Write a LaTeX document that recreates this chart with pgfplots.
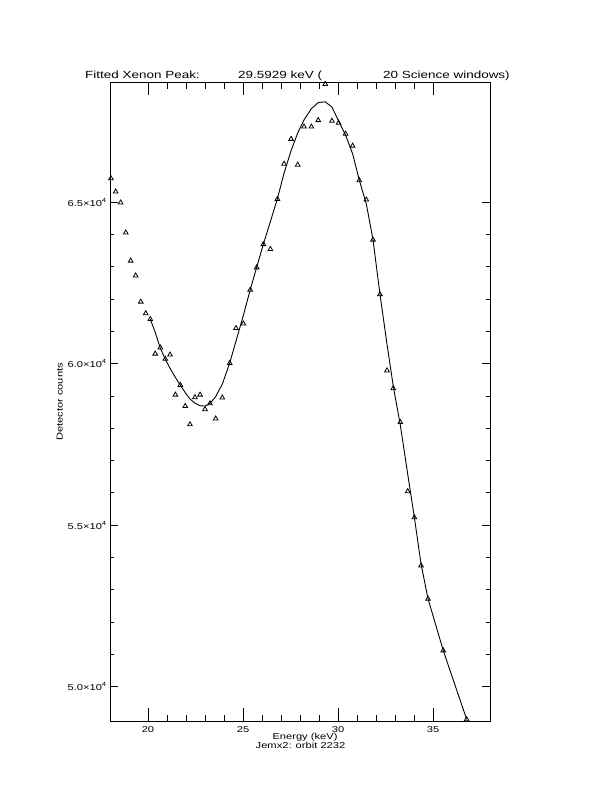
\documentclass[border=0pt]{standalone}
\usepackage{fontspec}
\usepackage{pgfplots}
\usepackage{pgfplotstable}
\pgfplotsset{compat=1.18}
\newfontfamily\hfont[FakeStretch=1.3]{Liberation Sans}
\newcommand{\tfont}{\hfont\fontsize{8.6}{9}\selectfont}
\newcommand{\ttlfont}{\hfont\fontsize{10.4}{11}\selectfont}

\pgfplotstableread{
x y
18.05 65740
18.30 65330
18.56 64990
18.83 64060
19.09 63190
19.35 62730
19.62 61920
19.88 61560
20.12 61380
20.38 60310
20.65 60500
20.91 60150
21.16 60280
21.44 59040
21.70 59340
21.96 58690
22.21 58120
22.47 58960
22.74 59040
23.00 58590
23.26 58770
23.56 58300
23.91 58950
24.30 60020
24.63 61100
25.02 61240
25.38 62290
25.72 62980
26.07 63700
26.44 63550
26.81 65100
27.16 66190
27.53 66960
27.88 66160
28.21 67340
28.60 67340
28.96 67540
29.33 68660
29.68 67520
30.03 67460
30.40 67120
30.77 66750
31.12 65680
31.49 65080
31.84 63840
32.21 62150
32.58 59790
32.91 59240
33.28 58190
33.67 56050
34.02 55240
34.37 53750
34.74 52720
35.54 51120
36.77 48990
}\datatab

\pgfplotstableread{
x y
20.12 61380
20.38 60975
20.65 60480
20.91 60140
21.16 59860
21.44 59580
21.70 59340
21.96 59105
22.21 58910
22.47 58780
22.74 58700
23.00 58690
23.26 58770
23.56 58980
23.91 59370
24.30 60020
24.63 60700
25.02 61500
25.38 62290
25.72 62990
26.07 63700
26.44 64400
26.81 65110
27.16 65900
27.53 66600
27.88 67150
28.21 67550
28.60 67900
28.96 68090
29.33 68110
29.68 67950
30.03 67520
30.40 67080
30.77 66500
31.12 65690
31.49 64950
31.84 63850
32.21 62150
32.58 60600
32.91 59300
33.28 58100
33.67 56580
34.02 55240
34.37 53800
34.74 52720
35.54 51120
36.77 48990
}\modeltab

\begin{document}
\begin{tikzpicture}
\path[use as bounding box] (0,0) rectangle (612bp,792bp);
\begin{axis}[
  at={(110bp,71bp)}, anchor=south west,
  scale only axis, width=380bp, height=638.3bp,
  xmin=18, xmax=38, ymin=48938, ymax=68704,
  axis line style={line width=0.9bp},
  xtick={20,25,30,35}, xticklabels={20,25,30,35},
  minor x tick num=4,
  ytick=\empty,
  tick align=inside,
  major tick length=12.7bp, minor tick length=6.4bp,
  every tick/.style={black, line width=0.9bp},
  xticklabel style={font=\tfont, anchor=base, yshift=-12bp, inner sep=0pt},
  clip mode=individual,
]
\addplot[black, line width=0.9bp, no marks] table {\modeltab};
\addplot[only marks, mark=triangle, mark size=2.7bp,
  mark options={black, line width=0.8bp, fill=none, solid}] table {\datatab};
\end{axis}
\begin{axis}[
  at={(110bp,71bp)}, anchor=south west,
  scale only axis, width=380bp, height=638.3bp,
  xmin=18, xmax=38, ymin=48938, ymax=68704,
  axis line style={line width=0.9bp},
  xtick=\empty,
  ytick={50000,55000,60000,65000},
  yticklabels={5.0×10\textsuperscript{4},5.5×10\textsuperscript{4},6.0×10\textsuperscript{4},6.5×10\textsuperscript{4}},
  scaled y ticks=false,
  minor y tick num=4,
  tick align=inside,
  major tick length=7.6bp, minor tick length=3.8bp,
  every tick/.style={black, line width=0.9bp},
  yticklabel style={font=\tfont, anchor=east, inner sep=0pt, xshift=-3bp},
]
\end{axis}
\node[anchor=base west, inner sep=0pt, font=\ttlfont] at (85bp,713bp) {Fitted Xenon Peak:};
\node[anchor=base west, inner sep=0pt, font=\ttlfont] at (238bp,713bp) {29.5929 keV (};
\node[anchor=base west, inner sep=0pt, font=\ttlfont] at (383bp,713bp) {20 Science windows)};
\node[anchor=base, inner sep=0pt, font=\tfont] at (305bp,52bp) {Energy (keV)};
\node[anchor=base, inner sep=0pt, font=\tfont] at (300.5bp,43bp) {Jemx2: orbit 2232};
\node[anchor=base, inner sep=0pt, font=\tfont, rotate=90] at (62.7bp,390bp) {Detector counts};
\end{tikzpicture}
\end{document}
